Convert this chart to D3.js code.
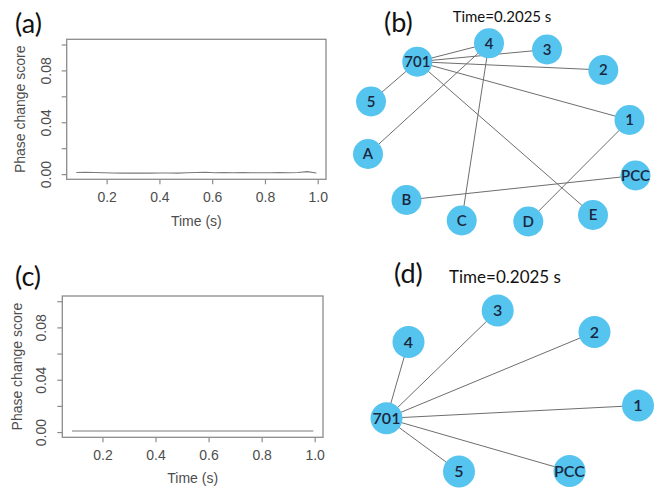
<!DOCTYPE html>
<html>
<head>
<meta charset="utf-8">
<script src="https://cdn.jsdelivr.net/npm/d3@7"></script>
<style>
  body { margin: 0; background: #fff; }
  svg { display: block; }
</style>
</head>
<body>
<svg id="fig" width="660" height="489"></svg>
<script>
// ---- data ----
const timeS  = [0.085, 0.12, 0.155, 0.19, 0.225, 0.26, 0.295, 0.33, 0.365, 0.40, 0.435, 0.47, 0.505, 0.54,
                0.575, 0.61, 0.645, 0.68, 0.715, 0.75, 0.785, 0.82, 0.855, 0.89, 0.925, 0.96, 0.995];
const scoreA = [0.0013, 0.0014, 0.0012, 0.0011, 0.0009, 0.0008, 0.0008, 0.0009, 0.0008, 0.0009, 0.0009, 0.0008, 0.0010, 0.0012,
                0.0014, 0.0011, 0.0013, 0.0010, 0.0012, 0.0011, 0.0010, 0.0011, 0.0012, 0.0011, 0.0013, 0.0019, 0.0009];
const scoreC = [0.0008, 0.0008, 0.0008, 0.0008, 0.0008, 0.0008, 0.0008, 0.0008, 0.0008, 0.0008, 0.0008, 0.0008, 0.0008, 0.0008,
                0.0008, 0.0008, 0.0008, 0.0008, 0.0008, 0.0008, 0.0008, 0.0008, 0.0008, 0.0008, 0.0008, 0.0008, 0.0008];
const yLimits = [0, 0.10];
const yTicks = [0, 0.02, 0.04, 0.06, 0.08, 0.10];
const yTickLabels = ["0.00", "", "0.04", "", "0.08", ""];
const xTicks = [0.2, 0.4, 0.6, 0.8, 1.0];
const xTickLabels = ["0.2", "0.4", "0.6", "0.8", "1.0"];
const xTitle = "Time (s)";
const yTitle = "Phase change score";
const snapshotTitle = "Time=0.2025 s";

const nodesB = ["701", "4", "3", "2", "1", "PCC", "E", "D", "C", "B", "A", "5"];
const edgesB = [["701", "4"], ["701", "3"], ["701", "2"], ["701", "1"], ["701", "E"], ["701", "5"],
                ["4", "A"], ["4", "C"], ["1", "D"], ["B", "PCC"]];
const nodesD = ["701", "4", "3", "2", "1", "PCC", "5"];
const edgesD = [["701", "4"], ["701", "3"], ["701", "2"], ["701", "1"], ["701", "PCC"], ["701", "5"]];

// ---- network layouts (panel-local coordinates) ----
const layoutB = {
  "701": [67.3, 31.7], "4": [139, 13.3], "3": [197, 19.5], "2": [253.3, 40], "1": [279.5, 90],
  "PCC": [285.5, 145.5], "E": [243, 185], "D": [178.3, 191.5], "C": [111.7, 190.5],
  "B": [56.5, 170], "A": [18, 124], "5": [21, 71.5]
};
const layoutD = {
  "701": [36.5, 128.3], "4": [58.5, 52], "3": [147.7, 20.5], "2": [244.5, 42],
  "1": [288, 115.5], "PCC": [219.5, 181], "5": [109, 181.5]
};

const svg = d3.select("#fig");
const axisGrey = "#8c8c8c";
const textGrey = "#4d4d4d";
const rFont = "'Liberation Sans', Arial, Helvetica, sans-serif";
const uiFont = "Lato, 'Open Sans', sans-serif";

// R-style time series panel: box, 4% padded axes, partial tick labels
function drawSeries(box, times, values, labelPos) {
  const g = svg.append("g");
  const xe = d3.extent(times), xp = (xe[1] - xe[0]) * 0.04;
  const yp = (yLimits[1] - yLimits[0]) * 0.04;
  const x = d3.scaleLinear().domain([xe[0] - xp, xe[1] + xp]).range([box.l, box.r]);
  const y = d3.scaleLinear().domain([yLimits[0] - yp, yLimits[1] + yp]).range([box.b, box.t]);

  g.append("rect").attr("x", box.l).attr("y", box.t)
    .attr("width", box.r - box.l).attr("height", box.b - box.t)
    .attr("fill", "none").attr("stroke", axisGrey).attr("stroke-width", 1.3);

  const yAxis = d3.axisLeft(y).tickValues(yTicks).tickSize(5).tickPadding(14)
    .tickFormat((d, i) => yTickLabels[i]);
  const ya = g.append("g").attr("transform", `translate(${box.l},0)`).call(yAxis);
  ya.select(".domain").remove();
  ya.selectAll(".tick line").attr("stroke", axisGrey).attr("stroke-width", 1.2);
  ya.selectAll(".tick text")
    .attr("fill", textGrey).attr("font-family", rFont).attr("font-size", 14)
    .attr("x", null).attr("dy", null)
    .attr("text-anchor", "middle")
    .attr("transform", `translate(${-labelPos.yLab},0) rotate(-90) translate(0,5)`);

  const xAxis = d3.axisBottom(x).tickValues(xTicks).tickSize(5).tickPadding(6)
    .tickFormat((d, i) => xTickLabels[i]);
  const xa = g.append("g").attr("transform", `translate(0,${box.b})`).call(xAxis);
  xa.select(".domain").remove();
  xa.selectAll(".tick line").attr("stroke", axisGrey).attr("stroke-width", 1.2);
  xa.selectAll(".tick text")
    .attr("fill", textGrey).attr("font-family", rFont).attr("font-size", 14)
    .attr("y", labelPos.xLab).attr("dy", null);

  const line = d3.line().x((d, i) => x(times[i])).y(d => y(d));
  g.append("path").datum(values).attr("d", line)
    .attr("fill", "none").attr("stroke", "#7a7a7a").attr("stroke-width", 1.1);

  g.append("text").text(xTitle)
    .attr("x", (box.l + box.r) / 2).attr("y", box.b + labelPos.xTitle)
    .attr("text-anchor", "middle").attr("font-family", rFont).attr("font-size", 14).attr("fill", textGrey);
  g.append("text").text(yTitle)
    .attr("transform", `translate(${labelPos.yTitleX},${(box.t + box.b) / 2}) rotate(-90)`)
    .attr("text-anchor", "middle").attr("font-family", rFont).attr("font-size", 14).attr("fill", textGrey);
}

// network snapshot panel
function drawNetwork(origin, nodes, edges, layout, r, fontSize) {
  const g = svg.append("g");
  const sx = d3.scaleLinear().domain([0, 300]).range([origin[0], origin[0] + 300]);
  const sy = d3.scaleLinear().domain([0, 200]).range([origin[1], origin[1] + 200]);
  g.selectAll("line").data(edges).join("line")
    .attr("x1", d => sx(layout[d[0]][0])).attr("y1", d => sy(layout[d[0]][1]))
    .attr("x2", d => sx(layout[d[1]][0])).attr("y2", d => sy(layout[d[1]][1]))
    .attr("stroke", "#6e6e6e").attr("stroke-width", 1);
  const ng = g.selectAll("g.node").data(nodes).join("g").attr("class", "node")
    .attr("transform", d => `translate(${sx(layout[d][0])},${sy(layout[d][1])})`);
  ng.append("circle").attr("r", r).attr("fill", "#55c4ee");
  ng.append("text").text(d => d)
    .attr("text-anchor", "middle").attr("dy", "0.36em")
    .attr("font-family", uiFont).attr("font-size", fontSize).attr("font-weight", 600)
    .attr("fill", "#1a2740");
}

drawSeries({ l: 66.7, r: 326, t: 39.3, b: 179.3 }, timeS, scoreA,
           { yLab: 21, xLab: 23, xTitle: 47, yTitleX: 25 });
drawSeries({ l: 62.3, r: 323, t: 296, b: 437.3 }, timeS, scoreC,
           { yLab: 21, xLab: 23, xTitle: 46, yTitleX: 22 });

drawNetwork([350, 30], nodesB, edgesB, layoutB, 15, 15);
drawNetwork([350, 290], nodesD, edgesD, layoutD, 16, 16);

// panel labels and snapshot titles
const panelLabels = [["(a)", 15, 33], ["(b)", 384, 32], ["(c)", 15, 286], ["(d)", 394, 283]];
svg.selectAll("text.panel").data(panelLabels).join("text").attr("class", "panel")
  .text(d => d[0]).attr("x", d => d[1]).attr("y", d => d[2])
  .attr("font-family", uiFont).attr("font-size", 27).attr("fill", "#111");

svg.append("text").text(snapshotTitle).attr("x", 502).attr("y", 22)
  .attr("text-anchor", "middle").attr("font-family", uiFont).attr("font-size", 15).attr("fill", "#111");
svg.append("text").text(snapshotTitle).attr("x", 505).attr("y", 283)
  .attr("text-anchor", "middle").attr("font-family", uiFont).attr("font-size", 17).attr("fill", "#111");
</script>
</body>
</html>
